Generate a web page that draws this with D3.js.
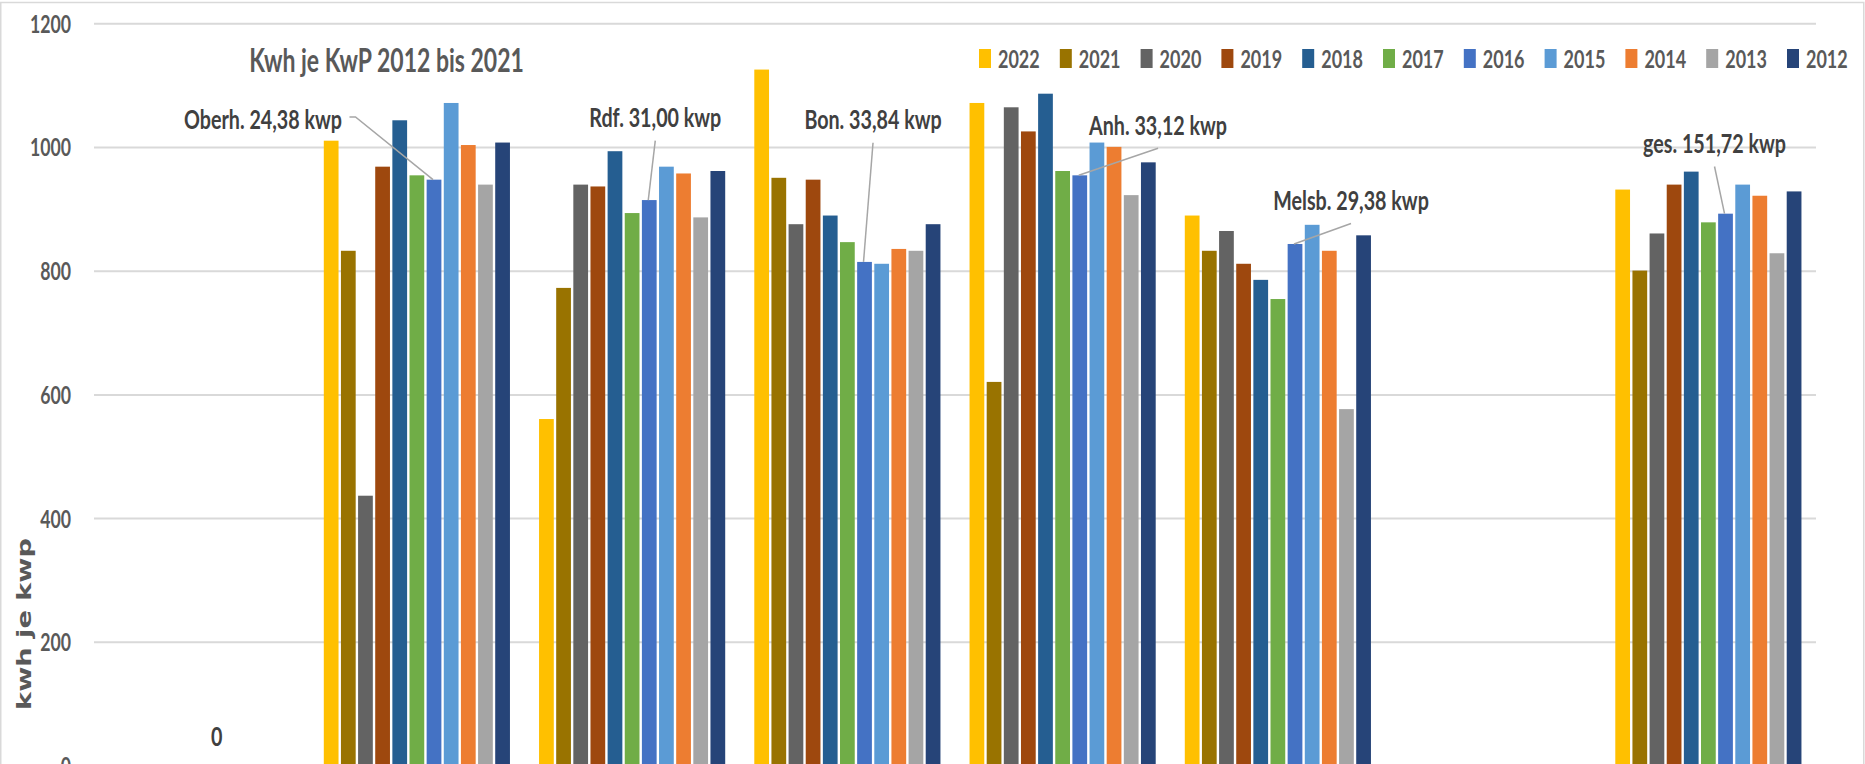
<!DOCTYPE html>
<html>
<head>
<meta charset="utf-8">
<script src="https://cdn.jsdelivr.net/npm/d3@7"></script>
<style>
  html, body { margin: 0; padding: 0; background: #fff; overflow: hidden; }
  svg { display: block; font-family: Lato, "Open Sans", sans-serif; font-weight: 700; }
</style>
</head>
<body>
<svg id="chart" width="1865" height="764"></svg>
<script>
// Chart data (kWh per kWp, per plant and year)
const categories = ['c0', 'Oberh.', 'Rdf.', 'Bon.', 'Anh.', 'Melsb.', 'c6', 'ges.'];
const years = ['2022', '2021', '2020', '2019', '2018', '2017', '2016', '2015', '2014', '2013', '2012'];

const v2022 = [null, 1011, 561, 1126, 1072, 890, null, 932];
const v2021 = [null, 833, 773, 951, 621, 833, null, 801];
const v2020 = [null, 437, 940, 876, 1065, 865, null, 861];
const v2019 = [null, 969, 937, 948, 1026, 812, null, 940];
const v2018 = [null, 1044, 994, 890, 1087, 786, null, 961];
const v2017 = [null, 955, 894, 847, 962, 755, null, 879];
const v2016 = [0, 948, 915, 815, 955, 844, null, 893];
const v2015 = [null, 1072, 969, 812, 1008, 875, null, 940];
const v2014 = [null, 1004, 958, 836, 1001, 833, null, 922];
const v2013 = [null, 940, 887, 833, 923, 577, null, 829];
const v2012 = [null, 1008, 962, 876, 976, 858, null, 929];

const seriesValues = [v2022, v2021, v2020, v2019, v2018, v2017, v2016, v2015, v2014, v2013, v2012];
const seriesColors = ['#FFC000', '#997300', '#636363', '#9E480E', '#255E91', '#70AD47',
                      '#4472C4', '#5B9BD5', '#ED7D31', '#A5A5A5', '#264478'];

// data labels of the 2016 series (per category)
const labels2016 = ['0', 'Oberh. 24,38 kwp', 'Rdf. 31,00 kwp', 'Bon. 33,84 kwp',
                    'Anh. 33,12 kwp', 'Melsb. 29,38 kwp', null, 'ges.  151,72 kwp'];

const yTicks = [0, 200, 400, 600, 800, 1000, 1200];
const chartTitle = 'Kwh je KwP 2012 bis 2021';
const yTitle = 'kwh je kwp';

// the picture is stretched vertically, text follows that
const SY = 1.4;

const svg = d3.select('#chart');

const plot = { left: 94, right: 1816, top: 23.8, bottom: 766 };

const x0 = d3.scaleBand().domain(categories).range([plot.left, plot.right]);
const groupGap = x0.bandwidth() * 0.124;
const x1 = d3.scaleBand().domain(years).range([groupGap / 2, x0.bandwidth() - groupGap / 2]);
const y = d3.scaleLinear().domain([0, 1200]).range([plot.bottom, plot.top]);

function stretchedText(parent, x, yy, str, size, anchor, color) {
  return parent.append('text')
    .attr('transform', `translate(${x},${yy}) scale(1,${SY})`)
    .attr('text-anchor', anchor)
    .attr('font-size', size)
    .attr('fill', color)
    .text(str);
}

// outer border
svg.append('rect')
  .attr('x', 0.75).attr('y', 2.5)
  .attr('width', 1863).attr('height', 800)
  .attr('fill', 'none').attr('stroke', '#d9d9d9').attr('stroke-width', 1.5);

// gridlines
svg.append('g')
  .selectAll('line')
  .data(yTicks)
  .enter().append('line')
  .attr('x1', plot.left).attr('x2', plot.right)
  .attr('y1', d => y(d)).attr('y2', d => y(d))
  .attr('stroke', '#d9d9d9').attr('stroke-width', 2);

// y tick labels
const tickG = svg.append('g');
yTicks.forEach(t => {
  stretchedText(tickG, 71, y(t) + 6.4 * SY, t, 17.7, 'end', '#595959');
});

// y axis title
svg.append('text')
  .attr('transform', `translate(31,624) scale(1,1.36) rotate(-90)`)
  .attr('text-anchor', 'middle')
  .attr('font-family', '"DejaVu Sans", Verdana, sans-serif')
  .attr('font-weight', 700)
  .attr('font-size', 20)
  .attr('fill', '#595959')
  .text(yTitle);

// bars
const pitch = x1.bandwidth();
const barW = pitch - 2.4;
const groups = svg.append('g')
  .selectAll('g')
  .data(years)
  .enter().append('g')
  .attr('fill', (d, i) => seriesColors[i]);

groups.selectAll('rect')
  .data((yr, i) => seriesValues[i].map((v, c) => ({ cat: categories[c], year: yr, value: v })))
  .enter().filter(d => d.value !== null && d.value > 0)
  .append('rect')
  .attr('x', d => x0(d.cat) + x1(d.year) + (pitch - barW) / 2)
  .attr('width', barW)
  .attr('y', d => y(d.value))
  .attr('height', d => y(0) - y(d.value));

// data labels of 2016 with leader lines (offsets from bar top)
const labelLayout = [
  { dx: -2, dy: -20, leader: null },
  { dx: -171, dy: -50.7, leader: 'side' },
  { dx: 6, dy: -73, leader: 'below' },
  { dx: 8.5, dy: -132.7, leader: 'below' },
  { dx: 78.3, dy: -40.6, leader: 'below' },
  { dx: 56, dy: -34, leader: 'below' },
  null,
  { dx: -11, dy: -60.7, leader: 'below' }
];

const labelG = svg.append('g');
labels2016.forEach((txt, c) => {
  if (txt === null || labelLayout[c] === null) return;
  const lay = labelLayout[c];
  const bx = x0(categories[c]) + x1('2016') + pitch / 2;
  const by = y(v2016[c]);
  const lx = bx + lay.dx;
  const ly = by + lay.dy;
  const t = stretchedText(labelG, lx, ly, txt, 19.7, 'middle', '#404040');
  const w = t.node().getComputedTextLength();
  if (lay.leader === 'side') {
    const sx = lx + w / 2 + 7.5;
    const sy = ly - 12;
    labelG.append('polyline')
      .attr('points', `${sx},${sy} ${sx + 6},${sy} ${bx - 1},${by}`)
      .attr('fill', 'none').attr('stroke', '#a6a6a6').attr('stroke-width', 1.5);
  } else if (lay.leader === 'below') {
    labelG.append('line')
      .attr('x1', lx).attr('y1', ly + 13.5)
      .attr('x2', bx - 1).attr('y2', by)
      .attr('stroke', '#a6a6a6').attr('stroke-width', 1.5);
  }
});

// title
stretchedText(svg, 386.5, 72, chartTitle, 23, 'middle', '#595959');

// legend
const legend = svg.append('g');
years.forEach((yr, i) => {
  const lx = 979 + i * 80.8;
  legend.append('rect')
    .attr('x', lx).attr('y', 49)
    .attr('width', 12).attr('height', 19)
    .attr('fill', seriesColors[i]);
  stretchedText(legend, lx + 19, 68, yr, 18, 'start', '#595959');
});
</script>
</body>
</html>
